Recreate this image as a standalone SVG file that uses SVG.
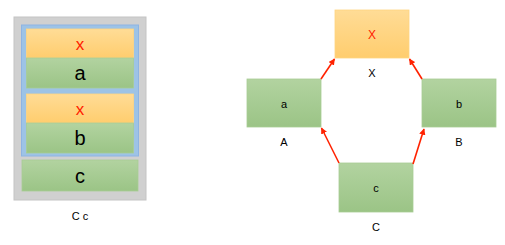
<svg xmlns="http://www.w3.org/2000/svg" width="505" height="245" viewBox="0 0 505 245">
<style>
  .lbl{font-family:"Liberation Sans",Arial,sans-serif;fill:#000}
  .red{fill:#FF2200}
  .org{fill:url(#go);stroke:#FFD580;stroke-width:0.8}
  .grn{fill:url(#gg);stroke:#A8CC95;stroke-width:0.8}
  .con{stroke:#FF2200;stroke-width:1.6;fill:none;marker-end:url(#ah)}
</style>
<defs>
  <linearGradient id="go" x1="0" y1="0" x2="0" y2="1">
    <stop offset="0" stop-color="#FFDC96"/>
    <stop offset="1" stop-color="#FFCD6E"/>
  </linearGradient>
  <linearGradient id="gg" x1="0" y1="0" x2="0" y2="1">
    <stop offset="0" stop-color="#B2D3A0"/>
    <stop offset="1" stop-color="#9BC486"/>
  </linearGradient>
  <marker id="ah" viewBox="0 0 10 10" refX="9" refY="5" markerWidth="4" markerHeight="4" orient="auto" markerUnits="strokeWidth">
    <path d="M0,0 L10,5 L0,10 z" fill="#FF2200"/>
  </marker>
</defs>

<g id="stack">
  <rect x="14" y="17" width="132" height="183" fill="#D0D0D0" stroke="#C4C4C4" stroke-width="1"/>
  <rect x="21.5" y="25" width="117" height="131" fill="#9DC3E6" stroke="#8EB4E3" stroke-width="1"/>
  <rect x="26.5" y="29" width="107" height="29" class="org"/>
  <text x="80" y="50" font-size="17" text-anchor="middle" class="lbl red">x</text>
  <rect x="26.5" y="58" width="107" height="30" class="grn"/>
  <text x="80" y="80" font-size="20" text-anchor="middle" class="lbl">a</text>
  <rect x="26.5" y="94" width="107" height="29" class="org"/>
  <text x="80" y="115" font-size="17" text-anchor="middle" class="lbl red">x</text>
  <rect x="26.5" y="123" width="107" height="30" class="grn"/>
  <text x="80" y="145" font-size="20" text-anchor="middle" class="lbl">b</text>
  <rect x="22" y="160" width="116" height="31" class="grn"/>
  <text x="80" y="183" font-size="20" text-anchor="middle" class="lbl">c</text>
  <text x="80" y="220" font-size="11" text-anchor="middle" class="lbl">C c</text>
</g>

<g id="nodeX">
  <rect x="335" y="10" width="74" height="48" class="org"/>
  <text x="372" y="39" font-size="12" text-anchor="middle" class="lbl red">X</text>
  <text x="372" y="77" font-size="11" text-anchor="middle" class="lbl">X</text>
</g>
<g id="nodeA">
  <rect x="247" y="79" width="74" height="48" class="grn"/>
  <text x="284" y="108" font-size="11" text-anchor="middle" class="lbl">a</text>
  <text x="284" y="146" font-size="11" text-anchor="middle" class="lbl">A</text>
</g>
<g id="nodeB">
  <rect x="422" y="79" width="74" height="48" class="grn"/>
  <text x="459" y="108" font-size="11" text-anchor="middle" class="lbl">b</text>
  <text x="459" y="146" font-size="11" text-anchor="middle" class="lbl">B</text>
</g>
<g id="nodeC">
  <rect x="339" y="163" width="74" height="49" class="grn"/>
  <text x="376" y="192" font-size="11" text-anchor="middle" class="lbl">c</text>
  <text x="376" y="231" font-size="11" text-anchor="middle" class="lbl">C</text>
</g>

<g id="connectors">
  <line x1="321" y1="79" x2="334.5" y2="59" class="con"/>
  <line x1="422" y1="79" x2="409.5" y2="59" class="con"/>
  <line x1="339" y1="163" x2="321.5" y2="128" class="con"/>
  <line x1="413" y1="164" x2="424" y2="129" class="con"/>
</g>
</svg>
